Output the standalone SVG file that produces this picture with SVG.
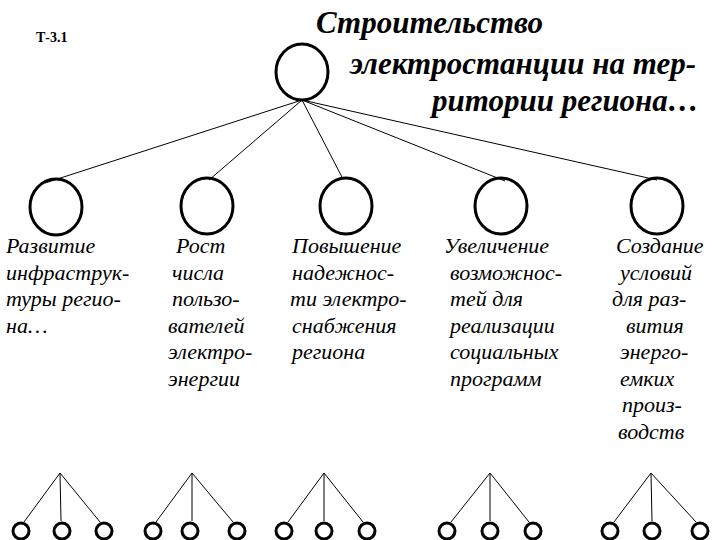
<svg xmlns="http://www.w3.org/2000/svg" width="720" height="540" viewBox="0 0 720 540">
<style>
.n{fill:none;stroke:#000;stroke-width:3}
.s{fill:none;stroke:#000;stroke-width:3}
.c line{stroke:#000;stroke-width:1}
text{font-family:"Liberation Serif","DejaVu Serif",serif;font-style:italic;font-size:22px;fill:#000}
.t{font-size:31px;font-weight:bold}
</style>
<rect width="720" height="540" fill="#fff"/>
<text x="36" y="42" style="font-style:normal;font-weight:bold;font-size:14px">Т-3.1</text>
<g id="root"><ellipse class="n" cx="302" cy="72" rx="26" ry="28"/>
<text class="t" x="316" y="33">Строительство</text>
<text class="t" x="350" y="74">электростанции на тер-</text>
<text class="t" x="432" y="111">ритории региона…</text></g>
<g class="c">
<line x1="302" y1="100" x2="45" y2="183"/><line x1="302" y1="100" x2="209" y2="180"/><line x1="302" y1="100" x2="343" y2="179"/><line x1="302" y1="100" x2="505" y2="181"/><line x1="302" y1="100" x2="657" y2="180"/>
<line x1="60" y1="473" x2="24" y2="522"/><line x1="60" y1="473" x2="61" y2="521"/><line x1="60" y1="473" x2="100" y2="522"/>
<line x1="192" y1="473" x2="156" y2="522"/><line x1="192" y1="473" x2="192" y2="521"/><line x1="192" y1="473" x2="233" y2="522"/>
<line x1="324" y1="473" x2="288" y2="522"/><line x1="324" y1="473" x2="324" y2="521"/><line x1="324" y1="473" x2="363" y2="522"/>
<line x1="490" y1="473" x2="451" y2="522"/><line x1="490" y1="473" x2="490" y2="521"/><line x1="490" y1="473" x2="529" y2="522"/>
<line x1="651" y1="473" x2="614" y2="522"/><line x1="651" y1="473" x2="652" y2="521"/><line x1="651" y1="473" x2="696" y2="522"/>
</g>
<g id="n1"><ellipse class="n" cx="56" cy="207" rx="26" ry="28"/>
<text x="6" y="253">Развитие</text><text x="6" y="280">инфраструк-</text><text x="6" y="306">туры регио-</text><text x="6" y="333">на…</text></g>
<g id="n2"><ellipse class="n" cx="207" cy="206" rx="26" ry="28"/>
<text x="176" y="253">Рост</text><text x="172" y="280">числа</text><text x="172" y="306">пользо-</text><text x="168" y="333">вателей</text><text x="168" y="359">электро-</text><text x="168" y="386">энергии</text></g>
<g id="n3"><ellipse class="n" cx="346" cy="206" rx="26" ry="28"/>
<text x="292" y="253">Повышение</text><text x="292" y="280">надежнос-</text><text x="290" y="306">ти электро-</text><text x="292" y="333">снабжения</text><text x="292" y="359">региона</text></g>
<g id="n4"><ellipse class="n" cx="501" cy="206" rx="26" ry="28"/>
<text x="444" y="253">Увеличение</text><text x="450" y="280">возможнос-</text><text x="450" y="306">тей для</text><text x="450" y="333">реализации</text><text x="450" y="359">социальных</text><text x="450" y="386">программ</text></g>
<g id="n5"><ellipse class="n" cx="657" cy="206" rx="26" ry="28"/>
<text x="616" y="253">Создание</text><text x="620" y="280">условий</text><text x="612" y="306">для раз-</text><text x="626" y="333">вития</text><text x="620" y="359">энерго-</text><text x="620" y="386">емких</text><text x="622" y="412">произ-</text><text x="618" y="439">водств</text></g>
<g id="leaves">
<circle class="s" cx="21" cy="531" r="8"/><circle class="s" cx="62" cy="531" r="8"/><circle class="s" cx="104" cy="531" r="8"/>
<circle class="s" cx="153" cy="531" r="8"/><circle class="s" cx="190" cy="531" r="8"/><circle class="s" cx="237" cy="531" r="8"/>
<circle class="s" cx="284" cy="531" r="8"/><circle class="s" cx="324" cy="531" r="8"/><circle class="s" cx="367" cy="531" r="8"/>
<circle class="s" cx="447" cy="531" r="8"/><circle class="s" cx="490" cy="531" r="8"/><circle class="s" cx="533" cy="531" r="8"/>
<circle class="s" cx="610" cy="531" r="8"/><circle class="s" cx="652" cy="531" r="8"/><circle class="s" cx="700" cy="531" r="8"/>
</g>
</svg>
